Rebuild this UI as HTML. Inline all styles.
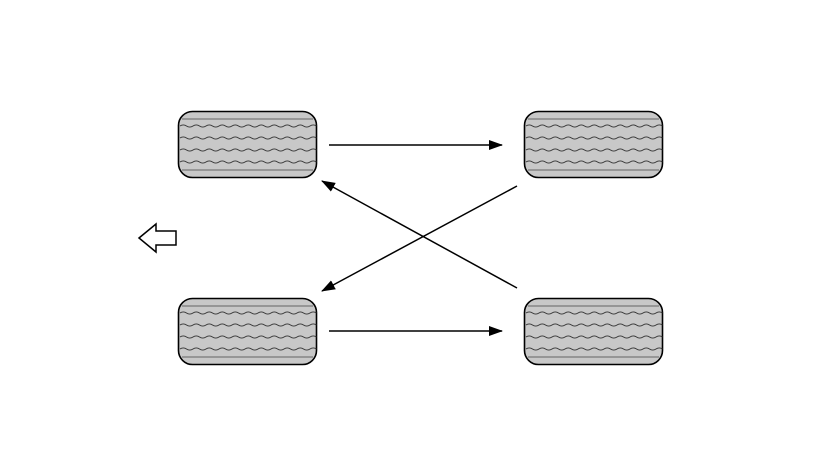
<!DOCTYPE html>
<html><head><meta charset="utf-8"><style>html,body{margin:0;padding:0;background:#fff;}svg{display:block}</style></head>
<body>
<svg width="820" height="476" viewBox="0 0 820 476" xmlns="http://www.w3.org/2000/svg">
<defs>
<marker id="ah" markerWidth="14" markerHeight="10" refX="13" refY="5" orient="auto" markerUnits="userSpaceOnUse">
<path d="M0,0 L14,5 L0,10 Z" fill="#000"/>
</marker>
<path id="wave" d="M180,0 q3.25,-2.2 6.5,0 t6.5,0 t6.5,0 t6.5,0 t6.5,0 t6.5,0 t6.5,0 t6.5,0 t6.5,0 t6.5,0 t6.5,0 t6.5,0 t6.5,0 t6.5,0 t6.5,0 t6.5,0 t6.5,0 t6.5,0 t6.5,0 t6.5,0 t6.5,0" fill="none" stroke="#333" stroke-width="0.9"/>
<g id="tire">
<rect x="178.5" y="111.5" width="138" height="66" rx="14" fill="#c8c8c8" stroke="#000" stroke-width="1.6"/>
<line x1="182" y1="119" x2="313" y2="119" stroke="#777" stroke-width="1.2"/>
<line x1="182" y1="170" x2="313" y2="170" stroke="#777" stroke-width="1.2"/>
<use href="#wave" y="126"/>
<use href="#wave" y="138"/>
<use href="#wave" y="150"/>
<use href="#wave" y="162"/>
</g>
</defs>
<use href="#tire"/>
<use href="#tire" x="346"/>
<use href="#tire" y="187"/>
<use href="#tire" x="346" y="187"/>
<g stroke="#000" stroke-width="1.5" fill="none">
<line x1="329" y1="145" x2="502" y2="145" marker-end="url(#ah)"/>
<line x1="329" y1="331" x2="502" y2="331" marker-end="url(#ah)"/>
<line x1="517" y1="186" x2="322" y2="291" marker-end="url(#ah)"/>
<line x1="517" y1="288" x2="322" y2="181" marker-end="url(#ah)"/>
</g>
<path d="M139,238 L156,224 L156,231 L176,231 L176,245 L156,245 L156,252 Z" fill="#fff" stroke="#000" stroke-width="1.5"/>
</svg>
</body></html>
